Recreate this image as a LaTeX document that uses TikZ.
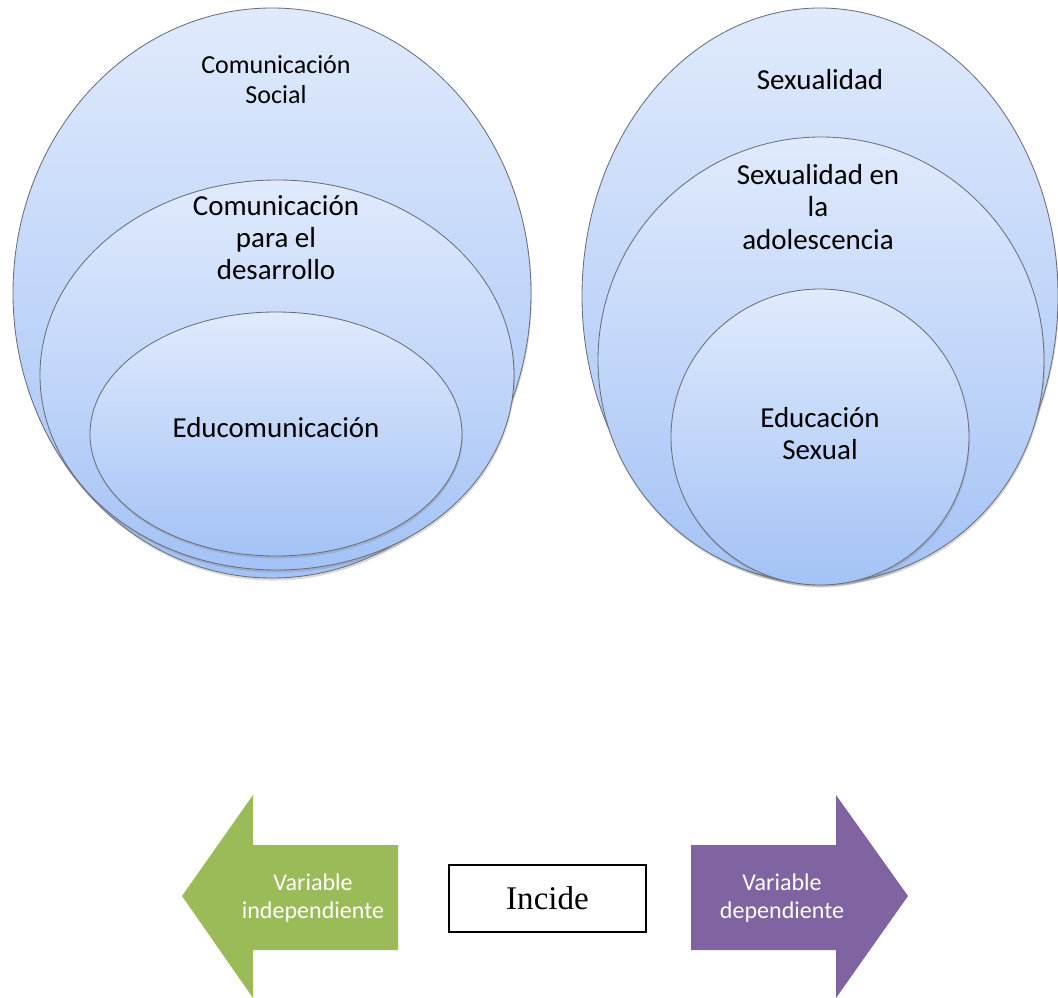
\documentclass[tikz,border=0pt]{standalone}
\usepackage{fontspec}
\setmainfont{Carlito}
\newfontfamily\incidefont{Liberation Serif}
\usetikzlibrary{shadows}

\definecolor{bubbletop}{RGB}{224,234,252}
\definecolor{bubblebot}{RGB}{163,194,246}
\definecolor{bubbleline}{RGB}{105,110,122}
\definecolor{vargreen}{RGB}{155,187,89}
\definecolor{varpurple}{RGB}{128,100,162}

\begin{document}
\begin{tikzpicture}
	[x=0.025cm, y=-0.025cm,
	bubble/.style={draw=bubbleline, line width=0.6pt, top color=bubbletop, bottom color=bubblebot,
		drop shadow={shadow xshift=0.6pt, shadow yshift=-1.8pt, opacity=0.3}},
	toplabel/.style={align=center, font=\fontsize{18.5}{21.3}\selectfont},
	inlabel/.style={align=center, font=\fontsize{20.6}{22.8}\selectfont},
	varlabel/.style={align=center, text=white, font=\fontsize{17.1}{19.9}\selectfont}];

	\useasboundingbox (0,0) rectangle (1058,998);

	%Comunicacion
	\draw[bubble] (272,293) ellipse [x radius=259, y radius=285];
	\draw[bubble] (277,375) ellipse [x radius=237, y radius=195];
	\draw[bubble] (276,434) ellipse [x radius=186, y radius=122];
	\node[toplabel] (social) at (276,80) {Comunicación\\Social};
	\node[inlabel] (desarrollo) at (276,238) {Comunicación\\para el\\desarrollo};
	\node[inlabel] (educom) at (276,428) {Educomunicación};

	%Sexualidad
	\draw[bubble] (820,296) ellipse [x radius=238, y radius=288];
	\draw[bubble] (821,360) ellipse [x radius=223, y radius=223];
	\draw[bubble] (820,437) ellipse [x radius=149, y radius=148];
	\node[inlabel] (sexualidad) at (820,80) {Sexualidad};
	\node[inlabel] (adolescencia) at (818,207) {Sexualidad en\\la\\adolescencia};
	\node[inlabel] (edusexual) at (820,434) {Educación\\Sexual};

	%Variables
	\fill[vargreen] (398,845) -- (253,845) -- (253,795) -- (182,896) -- (253,998) -- (253,950) -- (398,950) -- cycle;
	\fill[varpurple] (691,845) -- (836,845) -- (836,795) -- (908,896) -- (836,998) -- (836,950) -- (691,950) -- cycle;
	\node[varlabel] (indep) at (313,898) {Variable\\independiente};
	\node[varlabel] (dep) at (782,898) {Variable\\dependiente};
	\node[draw, line width=0.8pt, minimum width=197*0.025cm, minimum height=67*0.025cm,
		font=\incidefont\fontsize{23.5}{26}\selectfont] (incide) at (547.5,898.5) {Incide};
\end{tikzpicture}
\end{document}
